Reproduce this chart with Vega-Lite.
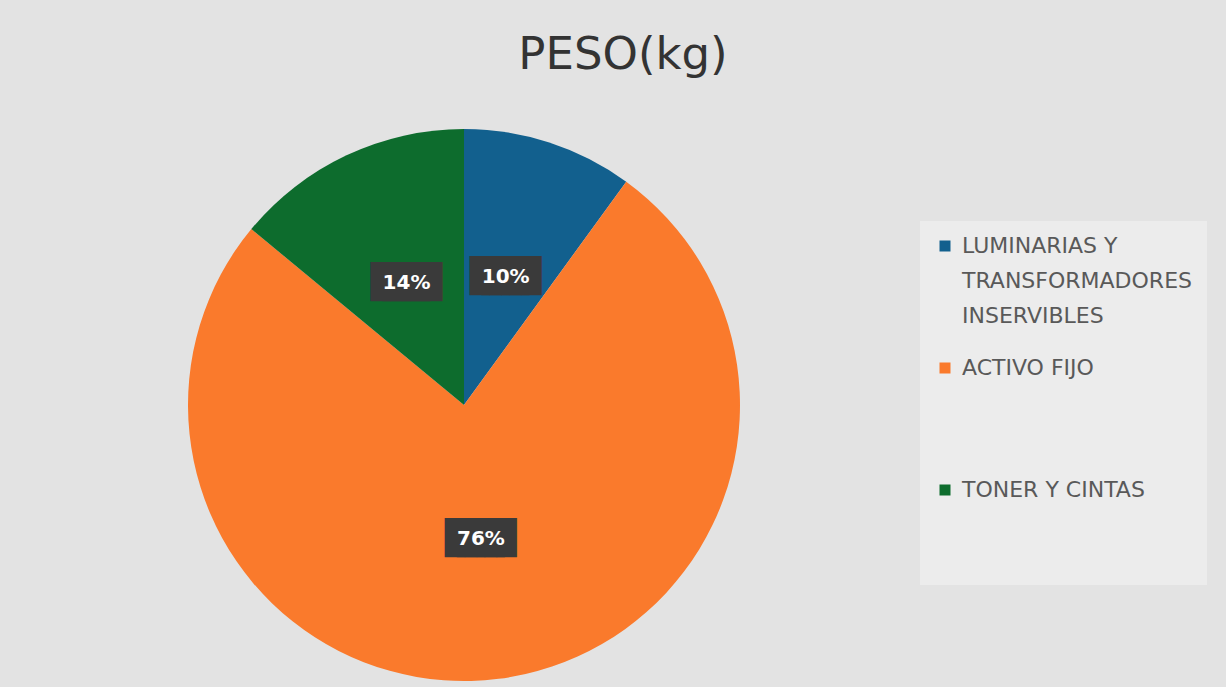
{
  "$schema": "https://vega.github.io/schema/vega-lite/v6.json",
  "width": 928,
  "height": 610,
  "autosize": {"type": "none"},
  "padding": {"left": 0, "top": 100, "right": 298, "bottom": 0},
  "background": "#e3e3e3",
  "config": {"view": {"stroke": null}},
  "title": {
    "text": "PESO(kg)",
    "fontSize": 45,
    "font": "DejaVu Sans",
    "fontWeight": "normal",
    "color": "#333333",
    "anchor": "middle",
    "dx": 159,
    "offset": 22
  },
  "data": {
    "values": [
      {"categoria": "LUMINARIAS Y TRANSFORMADORES INSERVIBLES", "porcentaje": 10, "etiqueta": "10%", "orden": 1},
      {"categoria": "ACTIVO FIJO", "porcentaje": 76, "etiqueta": "76%", "orden": 2},
      {"categoria": "TONER Y CINTAS", "porcentaje": 14, "etiqueta": "14%", "orden": 3}
    ]
  },
  "encoding": {
    "theta": {"field": "porcentaje", "type": "quantitative", "stack": true},
    "order": {"field": "orden", "type": "quantitative"}
  },
  "layer": [
    {
      "mark": {"type": "arc", "outerRadius": 276},
      "encoding": {
        "color": {
          "field": "categoria",
          "type": "nominal",
          "sort": null,
          "scale": {
            "domain": ["LUMINARIAS Y TRANSFORMADORES INSERVIBLES", "ACTIVO FIJO", "TONER Y CINTAS"],
            "range": ["#12608e", "#fa7a2c", "#0d6c2d"]
          },
          "legend": {
            "title": null,
            "orient": "none",
            "legendX": 920,
            "legendY": 121,
            "symbolType": "square",
            "symbolSize": 121,
            "symbolStrokeWidth": 0,
            "labelFont": "DejaVu Sans",
            "labelFontSize": 22,
            "labelColor": "#595959",
            "labelExpr": "datum.label == 'LUMINARIAS Y TRANSFORMADORES INSERVIBLES' ? ['LUMINARIAS Y', 'TRANSFORMADORES', 'INSERVIBLES'] : [datum.label, ' ', ' ']",
            "labelLimit": 300,
            "labelOffset": 6,
            "rowPadding": 30,
            "padding": 14,
            "fillColor": "#ececec",
            "encode": {"labels": {"update": {"lineHeight": {"value": 35}}}}
          }
        }
      }
    },
    {
      "mark": {"type": "text", "radius": 135, "text": "███", "font": "DejaVu Sans Mono", "fontSize": 33, "color": "#3a3a3a", "baseline": "middle", "dx": -6}
    },
    {
      "mark": {"type": "text", "radius": 135, "text": "███", "font": "DejaVu Sans Mono", "fontSize": 33, "color": "#3a3a3a", "baseline": "middle", "dx": 6}
    },
    {
      "mark": {"type": "text", "radius": 135, "font": "DejaVu Sans", "fontWeight": "bold", "fontSize": 20, "color": "#ffffff", "baseline": "middle"},
      "encoding": {"text": {"field": "etiqueta"}}
    }
  ]
}
